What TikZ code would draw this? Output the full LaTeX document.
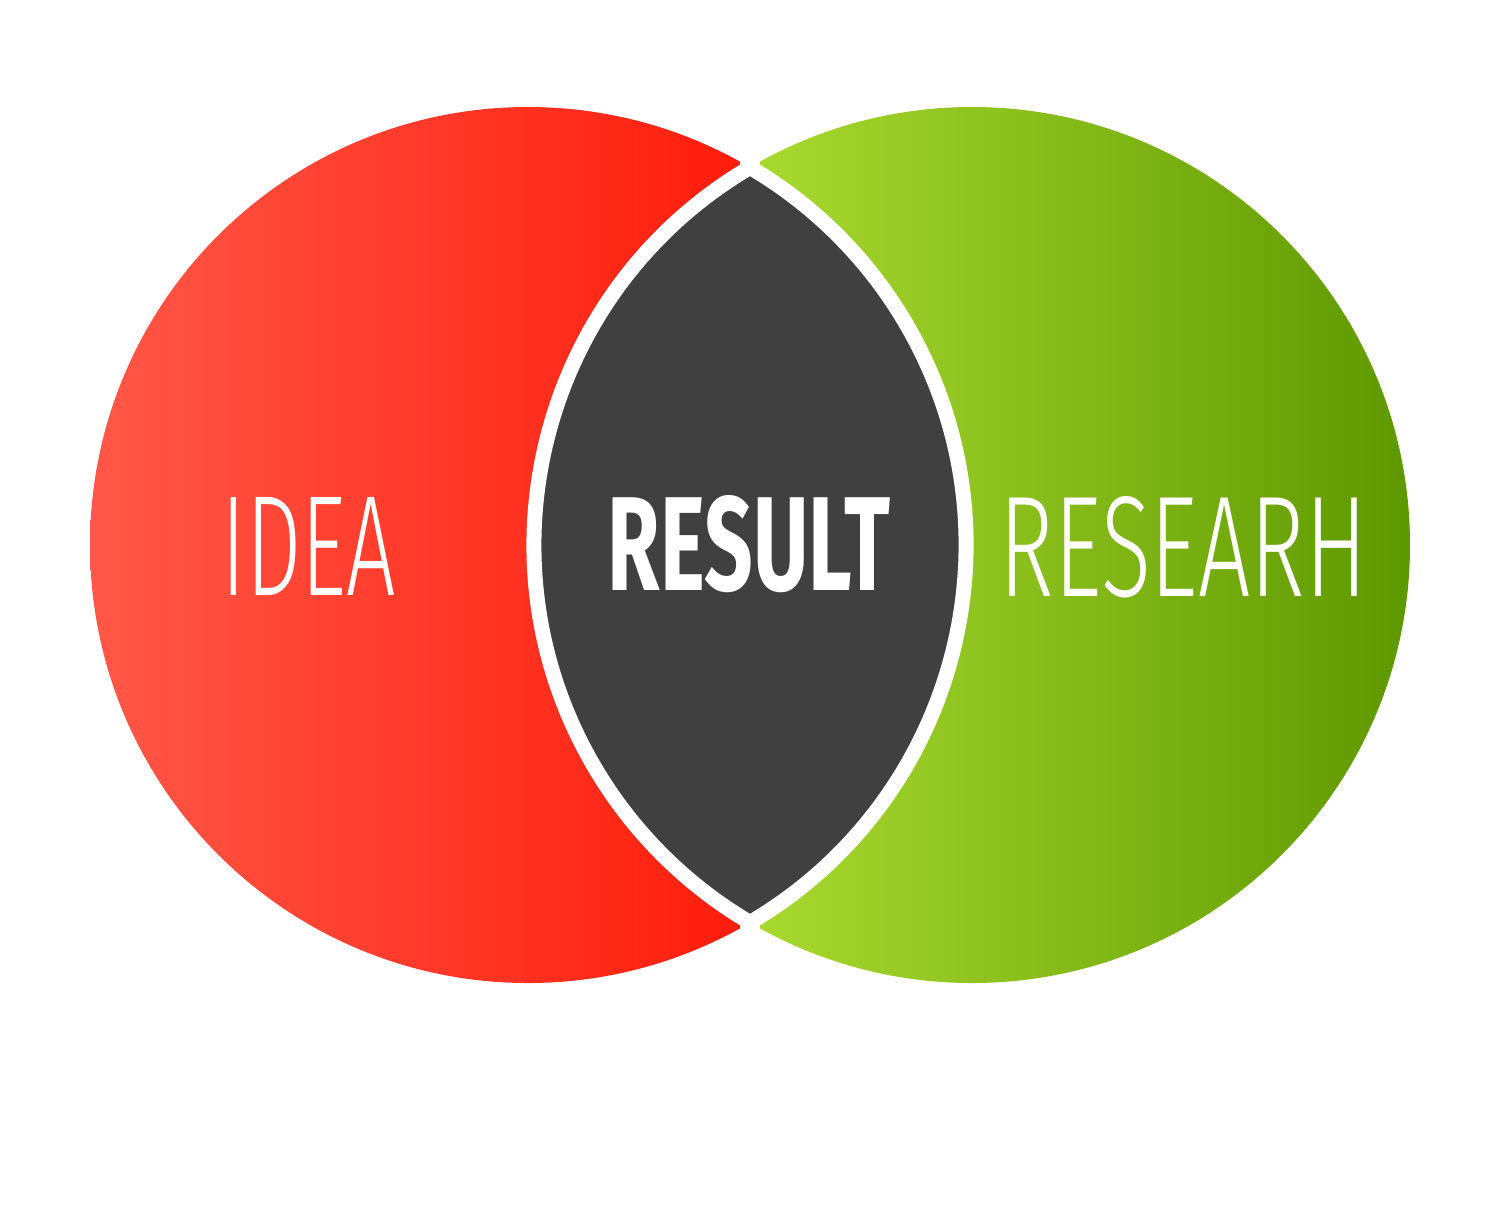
\documentclass[tikz,border=0pt]{standalone}
\usepackage{fontspec}
\usepackage{graphicx}
\setmainfont{Fira Sans}
\newfontfamily\thinfont{Fira Sans Light}
\definecolor{ideaL}{HTML}{FF5848}
\definecolor{ideaR}{HTML}{FF1D0C}
\definecolor{researchL}{HTML}{A8D92F}
\definecolor{researchR}{HTML}{5E9800}
\definecolor{lensgray}{HTML}{404040}
\tikzset{
  word/.style={inner sep=0pt, text=white},
  lensrim/.style={draw=white, line width=0.15cm}
}
\newcommand{\fitword}[3]{\resizebox{#1}{#2}{#3}}
\begin{document}
\begin{tikzpicture}[x=0.01cm,y=-0.01cm]
\useasboundingbox[fill=white] (0,0) rectangle (1500,1211);

\coordinate (L) at (528,545);
\coordinate (R) at (972,545);
\coordinate (T) at (750,167.4);

\begin{scope}
\clip (L) circle (438);
\shade[left color=ideaL, right color=ideaR] (90,100) rectangle (740,990);
\end{scope}
\begin{scope}
\clip (R) circle (438);
\shade[left color=researchL, right color=researchR] (760,100) rectangle (1410,990);
\end{scope}

% the overlap
\draw[lensrim, fill=lensgray] (T) arc[start angle=239.55, end angle=120.45, radius=438]
  arc[start angle=59.55, end angle=-59.55, radius=438] -- cycle;

\node[word] (idea) at (309,546) {\fitword{1.74cm}{0.98cm}{\thinfont IDEA}};
\node[word] (result) at (749,544.5) {\fitword{2.82cm}{0.95cm}{\bfseries RESULT}};
\node[word] (research) at (1183.5,547) {\fitword{3.67cm}{1.00cm}{\thinfont RESEARH}};
\end{tikzpicture}
\end{document}
